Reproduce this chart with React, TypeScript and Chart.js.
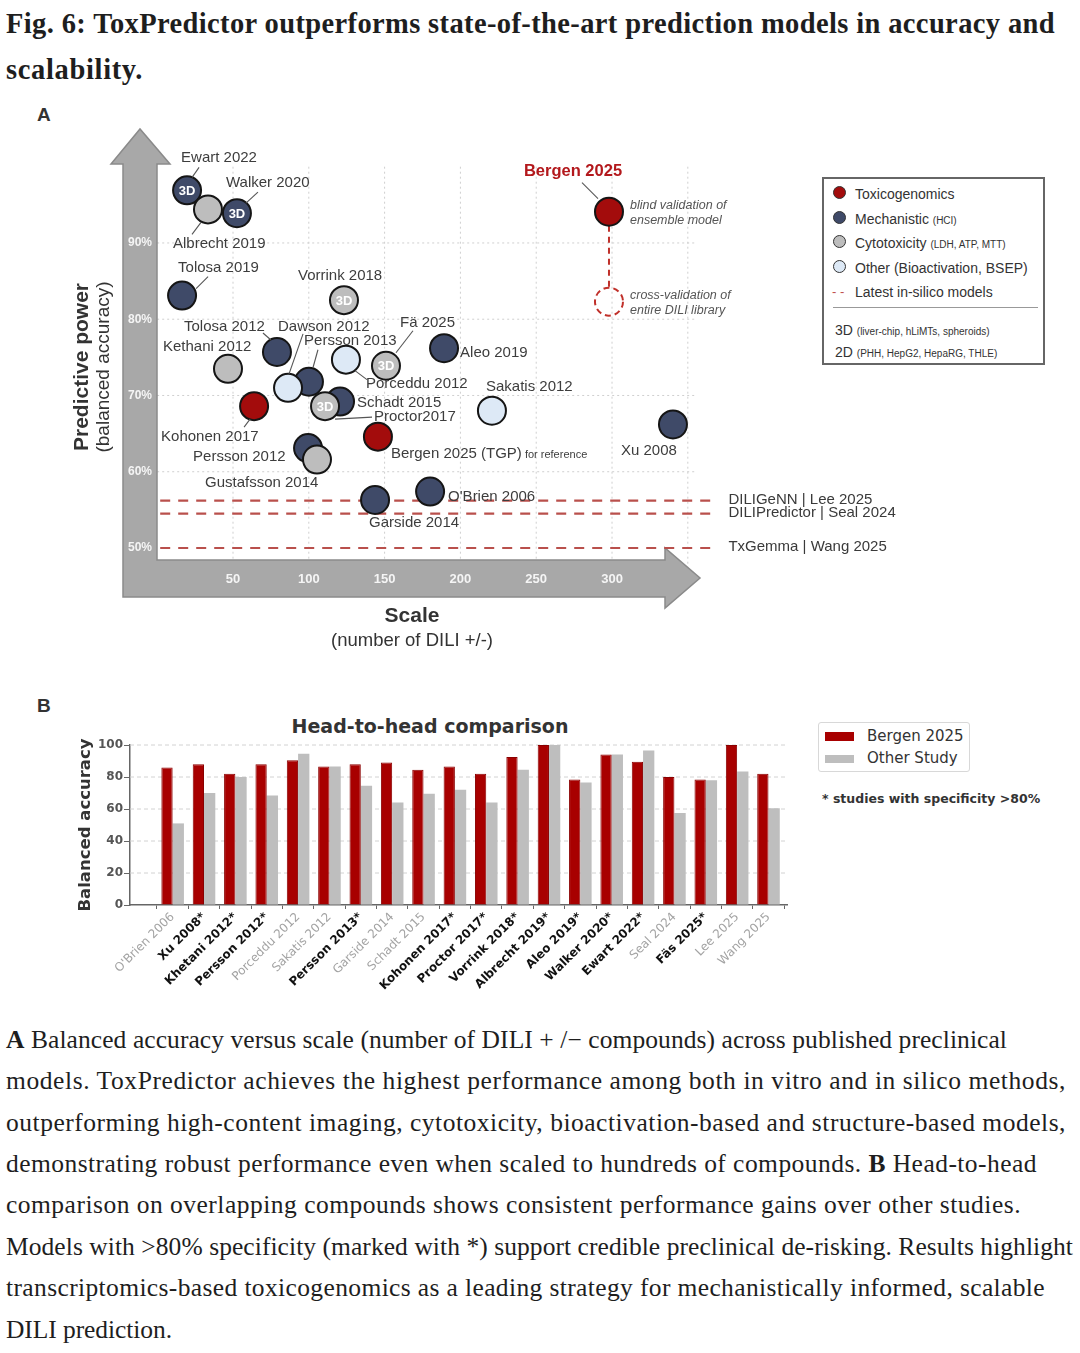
import React, { useEffect, useLayoutEffect, useRef, useState } from 'react';
import { Chart, registerables } from 'chart.js';
Chart.register(...registerables);

// ---------------- Panel A data ----------------
const studyNames = ["Ewart 2022", "Albrecht 2019", "Walker 2020", "Tolosa 2019", "Vorrink 2018", "Tolosa 2012", "Kethani 2012", "Dawson 2012", "Persson 2013", "Porceddu 2012", "Fä 2025", "Aleo 2019", "Schadt 2015", "Proctor2017", "Kohonen 2017", "Sakatis 2012", "Bergen 2025 (TGP)", "Persson 2012", "Gustafsson 2014", "Xu 2008", "O'Brien 2006", "Garside 2014", "Bergen 2025"];
const studyScale = [19.7, 33.5, 52.6, 16.4, 123.2, 79.0, 46.7, 100.1, 86.3, 124.5, 150.9, 189.2, 120.6, 110.7, 63.9, 220.8, 145.6, 99.5, 105.4, 340.2, 180.0, 143.7, 298.0];
const studyAccuracy = [96.9, 94.4, 93.9, 83.1, 82.5, 75.7, 73.5, 71.8, 71.0, 74.7, 73.9, 76.2, 69.2, 68.6, 68.6, 68.0, 64.6, 63.1, 61.6, 66.2, 57.4, 56.3, 94.1];
const studyType = ["mech", "cyto", "mech", "mech", "cyto", "mech", "cyto", "mech", "other", "other", "cyto", "mech", "mech", "cyto", "tox", "other", "tox", "mech", "cyto", "mech", "mech", "mech", "tox"];
const study3D = [true, false, true, false, true, false, false, false, false, false, true, false, false, true, false, false, false, false, false, false, false, false, false];
const bergenCVScale = 298.0;
const bergenCVAccuracy = 82.3;
const inSilicoNames = ["DILIGeNN | Lee 2025", "DILIPredictor | Seal 2024", "TxGemma | Wang 2025"];
const inSilicoAccuracy = [56.2, 54.5, 50.0];
const scaleTicks = [50, 100, 150, 200, 250, 300];
const scaleGrid = [50, 100, 150, 200, 250, 300, 350];
const accuracyTicks = [50, 60, 70, 80, 90];
const accuracyGrid = [60, 70, 80, 90];

// label placement (pixel offsets from the point): [dx, dy, leader line or null]
const labelLayout: [number, number, number[] | null][] = [
  [-6, -32, [12, -23, 5, -13]],
  [-35, 34, [-16, 25, -7, 13]],
  [-11, -30, [21, -21, 9, -10]],
  [-4, -28, [26, -19, 14, -7]],
  [-46, -24, null],
  [-93, -25, [-14, -19, -6, -12]],
  [-65, -22, null],
  [-31, -55, [9, -32, 4, -14]],
  [16, -47, [15, -54, 1, -14]],
  [20, 24, [9, 11, 21, 20]],
  [14, -43, [27, -35, 10, -13]],
  [16, 5, null],
  [17, 1, null],
  [49, 11, [10, 13, 47, 11]],
  [-93, 31, [-10, 21, -4, 13]],
  [-6, -24, null],
  [13, 17, null],
  [-115, 9, null],
  [-112, 23, null],
  [-52, 26, null],
  [18, 5, null],
  [-6, 23, null],
  [-36, -40, [-27, -29, -11, -13]],
];

// ---------------- Panel B data ----------------
const h2hStudies = ["O'Brien 2006", "Xu 2008*", "Khetani 2012*", "Persson 2012*", "Porceddu 2012", "Sakatis 2012", "Persson 2013*", "Garside 2014", "Schadt 2015", "Kohonen 2017*", "Proctor 2017*", "Vorrink 2018*", "Albrecht 2019*", "Aleo 2019*", "Walker 2020*", "Ewart 2022*", "Seal 2024", "Fäs 2025*", "Lee 2025", "Wang 2025"];
const bergenAccuracy = [86, 88, 82, 88, 90.5, 86.5, 88, 89, 84.5, 86.5, 82, 92.5, 100, 78.5, 94, 89.5, 80, 78.5, 100, 82];
const otherAccuracy = [51, 70, 80, 68.5, 94.5, 86.5, 74.5, 64, 69.5, 72, 64, 84.5, 100, 76.5, 94, 96.5, 57.5, 78, 83.5, 60.5];
const accuracyTicksB = [20, 40, 60, 80, 100];

const COLORS: Record<string, string> = { tox: '#a30c0c', mech: '#3f4a68', cyto: '#bdbdbd', other: '#dde9f6' };
const SANS = '"Liberation Sans", Arial, sans-serif';
const DJV = '"DejaVu Sans", sans-serif';
const SERIF = '"Liberation Serif", "Times New Roman", serif';
const f = (size: number, weight = 'normal', style = 'normal', fam = SANS) => `${style} ${weight} ${size}px ${fam}`;

function line(ctx: CanvasRenderingContext2D, x1: number, y1: number, x2: number, y2: number) {
  ctx.beginPath(); ctx.moveTo(x1, y1); ctx.lineTo(x2, y2); ctx.stroke();
}

const panelAPlugin = {
  id: 'panelA',
  beforeDatasetsDraw(chart: any) {
    const { ctx, chartArea: ca, scales } = chart;
    const x = scales.x, y = scales.y;
    ctx.save();
    // dotted grid
    ctx.strokeStyle = '#cfcfcf'; ctx.lineWidth = 1; ctx.setLineDash([2, 3]);
    scaleGrid.forEach(v => { const px = x.getPixelForValue(v); line(ctx, px, ca.top, px, ca.bottom); });
    accuracyGrid.forEach(v => { const py = y.getPixelForValue(v); line(ctx, ca.left, py, ca.right, py); });
    ctx.setLineDash([]);
    // big axis arrows
    ctx.fillStyle = '#a8a8a8'; ctx.strokeStyle = '#8a8a8a'; ctx.lineWidth = 1.5;
    ctx.beginPath();
    const pts = [[123, 497], [123, 64], [111, 64], [140, 29], [170, 64], [157, 64], [157, 460], [665, 460], [665, 448], [700, 478], [665, 508], [665, 497]];
    pts.forEach((p, i) => (i ? ctx.lineTo(p[0], p[1]) : ctx.moveTo(p[0], p[1])));
    ctx.closePath(); ctx.fill(); ctx.stroke();
    // tick labels on arrows
    ctx.fillStyle = '#f5f5f5'; ctx.textAlign = 'center'; ctx.textBaseline = 'middle';
    ctx.font = f(13, 'bold');
    scaleTicks.forEach(v => ctx.fillText(String(v), x.getPixelForValue(v), 479));
    ctx.font = f(12, 'bold');
    accuracyTicks.forEach(v => ctx.fillText(v + '%', 140, y.getPixelForValue(v)));
    // in-silico dashed lines
    ctx.strokeStyle = '#b9504c'; ctx.lineWidth = 2.2; ctx.setLineDash([10, 8]);
    ctx.textAlign = 'left'; ctx.fillStyle = '#3a3a3a'; ctx.font = f(15);
    inSilicoNames.forEach((n, i) => {
      const py = y.getPixelForValue(inSilicoAccuracy[i]);
      line(ctx, ca.left + 3, py, ca.right + 20, py);
      ctx.fillText(n, ca.right + 33, py - 1);
    });
    // Bergen link + cross-validation circle
    const bx = x.getPixelForValue(studyScale[22]), by = y.getPixelForValue(studyAccuracy[22]);
    const cx = x.getPixelForValue(bergenCVScale), cy = y.getPixelForValue(bergenCVAccuracy);
    ctx.strokeStyle = '#c0302a'; ctx.lineWidth = 2; ctx.setLineDash([6, 5]);
    line(ctx, bx, by + 14, cx, cy - 14);
    ctx.setLineDash([6, 4]);
    ctx.beginPath(); ctx.arc(cx, cy, 14, 0, Math.PI * 2); ctx.stroke();
    ctx.setLineDash([]);
    ctx.restore();
  },
  afterDatasetsDraw(chart: any) {
    const { ctx } = chart;
    const meta = chart.getDatasetMeta(0);
    ctx.save();
    ctx.textBaseline = 'middle';
    // 3D badges
    ctx.font = f(13, 'bold'); ctx.fillStyle = '#ffffff'; ctx.textAlign = 'center';
    meta.data.forEach((p: any, i: number) => { if (study3D[i]) ctx.fillText('3D', p.x, p.y + 1); });
    // labels
    ctx.strokeStyle = '#555'; ctx.lineWidth = 1.1;
    studyNames.forEach((name, i) => {
      const p = meta.data[i];
      const [dx, dy, ld] = labelLayout[i];
      if (ld) line(ctx, p.x + ld[0], p.y + ld[1], p.x + ld[2], p.y + ld[3]);
      if (i === 22) {
        ctx.font = f(16.5, 'bold'); ctx.fillStyle = '#b3181c'; ctx.textAlign = 'center';
        ctx.fillText(name, p.x + dx, p.y + dy);
        ctx.font = f(12.5, 'normal', 'italic'); ctx.fillStyle = '#555'; ctx.textAlign = 'left';
        ctx.fillText('blind validation of', p.x + 21, p.y - 6);
        ctx.fillText('ensemble model', p.x + 21, p.y + 9);
        return;
      }
      ctx.font = f(15); ctx.fillStyle = '#3d3d3d'; ctx.textAlign = 'left';
      ctx.fillText(name, p.x + dx, p.y + dy);
      if (name === 'Bergen 2025 (TGP)') {
        const w = ctx.measureText(name).width;
        ctx.font = f(11);
        ctx.fillText(' for reference', p.x + dx + w, p.y + dy + 1);
      }
    });
    const cvx = chart.scales.x.getPixelForValue(bergenCVScale), cvy = chart.scales.y.getPixelForValue(bergenCVAccuracy);
    ctx.font = f(12.5, 'normal', 'italic'); ctx.fillStyle = '#555'; ctx.textAlign = 'left';
    ctx.fillText('cross-validation of', cvx + 21, cvy - 6);
    ctx.fillText('entire DILI library', cvx + 21, cvy + 9);
    // axis titles
    ctx.fillStyle = '#333'; ctx.textAlign = 'center';
    ctx.save(); ctx.translate(82, 267); ctx.rotate(-Math.PI / 2);
    ctx.font = f(21, 'bold'); ctx.fillText('Predictive power', 0, 0); ctx.restore();
    ctx.save(); ctx.translate(104, 267); ctx.rotate(-Math.PI / 2);
    ctx.font = f(19); ctx.fillText('(balanced accuracy)', 0, 0); ctx.restore();
    ctx.font = f(21, 'bold'); ctx.fillText('Scale', 412, 516);
    ctx.font = f(18.5); ctx.fillText('(number of DILI +/-)', 412, 541);
    ctx.restore();
  },
};

const panelBPlugin = {
  id: 'panelB',
  beforeDatasetsDraw(chart: any) {
    const { ctx, chartArea: ca, scales } = chart;
    ctx.save();
    ctx.strokeStyle = '#d2d2d2'; ctx.lineWidth = 1; ctx.setLineDash([4, 3]);
    accuracyTicksB.forEach(v => { const py = scales.y.getPixelForValue(v); line(ctx, ca.left, py, ca.right, py); });
    ctx.restore();
  },
};

function FitLine(props: { segs: { t: string; b?: boolean }[]; left: number; baseline: number; width: number; size: number; bold?: boolean; color?: string }) {
  const ref = useRef<HTMLDivElement>(null);
  const [ls, setLs] = useState(0);
  useLayoutEffect(() => {
    const el = ref.current;
    if (!el) return;
    const w = el.getBoundingClientRect().width;
    const n = props.segs.reduce((a, s) => a + s.t.length, 0);
    setLs((props.width - w) / n);
  }, []);
  const { size } = props;
  return (
    <div ref={ref} style={{ position: 'absolute', left: props.left, top: props.baseline - 0.8375 * size, height: size, lineHeight: `${size}px`, fontSize: size, fontFamily: SERIF, fontWeight: props.bold ? 700 : 400, color: props.color || '#1e1e1e', whiteSpace: 'nowrap', letterSpacing: ls }}>
      {props.segs.map((s, i) => <span key={i} style={s.b ? { fontWeight: 700 } : undefined}>{s.t}</span>)}
    </div>
  );
}

const captionLines: { segs: { t: string; b?: boolean }[]; width: number }[] = [
  { segs: [{ t: 'A', b: true }, { t: ' Balanced accuracy versus scale (number of DILI + /\u2212 compounds) across published preclinical' }], width: 1001 },
  { segs: [{ t: 'models. ToxPredictor achieves the highest performance among both in vitro and in silico methods,' }], width: 1060 },
  { segs: [{ t: 'outperforming high-content imaging, cytotoxicity, bioactivation-based and structure-based models,' }], width: 1060 },
  { segs: [{ t: 'demonstrating robust performance even when scaled to hundreds of compounds. ' }, { t: 'B', b: true }, { t: ' Head-to-head' }], width: 1031 },
  { segs: [{ t: 'comparison on overlapping compounds shows consistent performance gains over other studies.' }], width: 1015 },
  { segs: [{ t: 'Models with >80% specificity (marked with *) support credible preclinical de-risking. Results highlight' }], width: 1067 },
  { segs: [{ t: 'transcriptomics-based toxicogenomics as a leading strategy for mechanistically informed, scalable' }], width: 1039 },
  { segs: [{ t: 'DILI prediction.' }], width: 166 },
];
const captionBaselines = [1048, 1089, 1131, 1172, 1213, 1255, 1296, 1338];

export default function App() {
  const refA = useRef<HTMLCanvasElement>(null);
  const refB = useRef<HTMLCanvasElement>(null);

  useEffect(() => {
    const chartA = new Chart(refA.current!, {
      type: 'scatter',
      data: {
        datasets: [{
          data: studyNames.map((_, i) => ({ x: studyScale[i], y: studyAccuracy[i] })),
          backgroundColor: studyType.map(t => COLORS[t]),
          borderColor: '#151515', borderWidth: 2, pointRadius: 14, pointHoverRadius: 14, clip: false as any,
        }],
      },
      options: {
        animation: false, responsive: false, events: [],
        layout: { padding: { left: 157.2, right: 384.6, top: 66.7, bottom: 91.5 } },
        scales: {
          x: { type: 'linear', display: false, min: 0, max: 355 },
          y: { type: 'linear', display: false, min: 46, max: 100 },
        },
        plugins: { legend: { display: false }, tooltip: { enabled: false } },
      },
      plugins: [panelAPlugin],
    } as any);

    const chartB = new Chart(refB.current!, {
      type: 'bar',
      data: {
        datasets: [
          { label: 'Bergen 2025', data: bergenAccuracy.map((v, i) => ({ x: i, y: v })), backgroundColor: '#a80000', borderColor: '#8a0000', borderWidth: 1 },
          { label: 'Other Study', data: otherAccuracy.map((v, i) => ({ x: i, y: v })), backgroundColor: '#bebebe', borderWidth: 0 },
        ],
      },
      options: {
        animation: false, responsive: false, events: [],
        layout: { padding: { left: 72, right: 13, top: 45, bottom: 0 } },
        datasets: { bar: { categoryPercentage: 0.72, barPercentage: 1.0 } },
        scales: {
          x: {
            type: 'linear', bounds: 'data', min: -1.36, max: 19.59, offset: false,
            afterBuildTicks: (s: any) => { s.ticks = h2hStudies.map((_, i) => ({ value: i })); },
            afterFit: (s: any) => { s.height = 95; },
            ticks: {
              autoSkip: false, minRotation: 45, maxRotation: 45, padding: 1,
              callback: (v: any) => h2hStudies[Math.round(v)] ?? '',
              color: (c: any) => (h2hStudies[c.index] || '').endsWith('*') ? '#111' : '#a3a3a3',
              font: (c: any) => ({ family: DJV, size: 12, weight: (h2hStudies[c.index] || '').endsWith('*') ? 'bold' : 'normal' }),
            },
            grid: { drawOnChartArea: false, drawTicks: true, tickLength: 4, color: '#666' },
            border: { color: '#666', width: 1.5 },
          },
          y: {
            min: 0, max: 100,
            afterFit: (s: any) => { s.width = 58; },
            ticks: { stepSize: 20, padding: 1, color: '#555', font: { family: DJV, size: 12, weight: 'bold' } },
            grid: { drawOnChartArea: false, drawTicks: true, tickLength: 6, color: '#666' },
            border: { color: '#666', width: 1.5 },
            title: { display: true, text: 'Balanced accuracy', color: '#333', font: { family: DJV, size: 16.5, weight: 'bold' }, padding: { top: 4, bottom: 0 } },
          },
        },
        plugins: { legend: { display: false }, tooltip: { enabled: false } },
      },
      plugins: [panelBPlugin],
    } as any);

    return () => { chartA.destroy(); chartB.destroy(); };
  }, []);

  const dot = (c: string) => ({ position: 'absolute' as const, left: 9, width: 13, height: 13, borderRadius: '50%', background: c, border: '1px solid #333', boxSizing: 'border-box' as const });
  const row = (top: number) => ({ position: 'absolute' as const, left: 31, top: top - 9, height: 18, lineHeight: '18px', fontSize: 14, whiteSpace: 'nowrap' as const });
  const small = { fontSize: 10 };

  return (
    <div style={{ position: 'absolute', left: 0, top: 0, width: 1080, height: 1353, background: '#fff', overflow: 'hidden', fontFamily: SERIF }}>
      <FitLine segs={[{ t: 'Fig. 6: ToxPredictor outperforms state-of-the-art prediction models in accuracy and' }]} left={6} baseline={34} width={1049} size={28.5} bold />
      <FitLine segs={[{ t: 'scalability.' }]} left={6} baseline={80} width={137} size={28.5} bold />

      <div style={{ position: 'absolute', left: 37, top: 104, fontFamily: SANS, fontWeight: 700, fontSize: 19, color: '#333' }}>A</div>
      <div style={{ position: 'absolute', left: 37, top: 695, fontFamily: SANS, fontWeight: 700, fontSize: 19, color: '#333' }}>B</div>

      <canvas ref={refA} width={1080} height={570} style={{ position: 'absolute', left: 0, top: 100, width: 1080, height: 570 }} />

      {/* Panel A legend */}
      <div style={{ position: 'absolute', left: 822, top: 177, width: 223, height: 188, border: '2px solid #666', boxSizing: 'border-box', background: '#fff', fontFamily: SANS, color: '#333' }}>
        <div style={{ ...dot(COLORS.tox), top: 15 - 8.5 }} />
        <div style={row(15)}>Toxicogenomics</div>
        <div style={{ ...dot(COLORS.mech), top: 40 - 8.5 }} />
        <div style={row(40)}>Mechanistic <span style={small}>(HCI)</span></div>
        <div style={{ ...dot(COLORS.cyto), top: 64 - 8.5 }} />
        <div style={row(64)}>Cytotoxicity <span style={small}>(LDH, ATP, MTT)</span></div>
        <div style={{ ...dot(COLORS.other), top: 89 - 8.5 }} />
        <div style={row(89)}>Other (Bioactivation, BSEP)</div>
        <div style={{ position: 'absolute', left: 8, top: 113 - 8.5, fontSize: 13, color: '#c0504d', lineHeight: '16px' }}>- -</div>
        <div style={row(113)}>Latest in-silico models</div>
        <div style={{ position: 'absolute', left: 9, right: 5, top: 128, height: 1, background: '#999' }} />
        <div style={{ ...row(151), left: 11 }}>3D <span style={small}>(liver-chip, hLiMTs, spheroids)</span></div>
        <div style={{ ...row(173), left: 11 }}>2D <span style={small}>(PHH, HepG2, HepaRG, THLE)</span></div>
      </div>

      {/* Panel B */}
      <div style={{ position: 'absolute', left: 230, top: 714, width: 400, textAlign: 'center', fontFamily: DJV, fontWeight: 700, fontSize: 19, color: '#333', lineHeight: '24px' }}>Head-to-head comparison</div>
      <canvas ref={refB} width={800} height={300} style={{ position: 'absolute', left: 0, top: 700, width: 800, height: 300 }} />
      <div style={{ position: 'absolute', left: 818, top: 722, width: 152, height: 50, border: '1px solid #d8d8d8', borderRadius: 3, boxSizing: 'border-box', fontFamily: DJV, fontSize: 15, color: '#333' }}>
        <div style={{ position: 'absolute', left: 6, top: 9, width: 29, height: 9, background: '#a80000' }} />
        <div style={{ position: 'absolute', left: 48, top: 3, lineHeight: '20px' }}>Bergen 2025</div>
        <div style={{ position: 'absolute', left: 6, top: 32, width: 29, height: 8, background: '#bebebe' }} />
        <div style={{ position: 'absolute', left: 48, top: 25, lineHeight: '20px' }}>Other Study</div>
      </div>
      <div style={{ position: 'absolute', left: 822, top: 789, fontFamily: DJV, fontWeight: 700, fontSize: 12.5, color: '#333', whiteSpace: 'nowrap', lineHeight: '20px' }}>* studies with specificity &gt;80%</div>

      {captionLines.map((l, i) => (
        <FitLine key={i} segs={l.segs} left={6} baseline={captionBaselines[i]} width={l.width} size={25.5} />
      ))}
    </div>
  );
}
